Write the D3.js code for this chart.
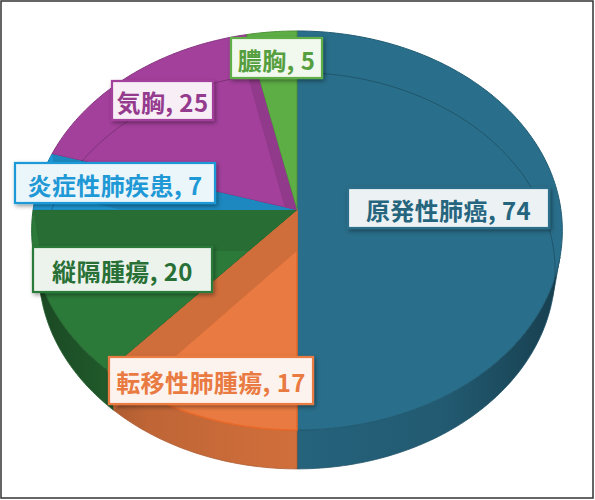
<!DOCTYPE html>
<html>
<head>
<meta charset="utf-8">
<script src="https://cdn.jsdelivr.net/npm/d3@7"></script>
<style>
  html, body { margin: 0; padding: 0; background: #fff; }
  svg { display: block; }
  .lbl { font-family: "Noto Sans CJK JP", "Noto Sans", sans-serif; font-weight: bold; font-size: 24px; }
</style>
</head>
<body>
<svg id="chart" width="595" height="500"></svg>
<script>
// ---- data ----
const categories = ["原発性肺癌", "転移性肺腫瘍", "縦隔腫瘍", "炎症性肺疾患", "気胸", "膿胸"];
const values = [74, 17, 20, 7, 25, 5];

// ---- styles / layout (not data) ----
const palette = ["#296E8A", "#E97B42", "#2C7A3A", "#1F99D6", "#A3409B", "#5EAE46"];
const labelBoxes = [
  [348, 188, 201, 40],
  [109, 357, 204, 47],
  [33, 247, 179, 45],
  [15, 163, 200, 40],
  [112, 81, 101, 39],
  [231, 38, 91, 40]
];

const W = 595, H = 500;
const cx = 297, cy = 210;          // screen position of pie centre (top face)
const f = 1705, L = 6.46;          // perspective camera
const sinP = 0.748, cosP = 0.664;  // camera elevation
const depthH = 0.24;               // pie thickness (radius = 1)

function proj(theta, r, z) {
  const x = r * Math.sin(theta), d = -r * Math.cos(theta);
  const dep = L - d * cosP - z * sinP;
  return [cx + f * x / dep, cy + f * (d * sinP - z * cosP) / dep];
}
function arcPts(a0, a1, z) {
  const n = Math.max(2, Math.ceil(Math.abs(a1 - a0) * 60));
  const pts = [];
  for (let i = 0; i <= n; i++) pts.push(proj(a0 + (a1 - a0) * i / n, 1, z));
  return pts;
}
const line = d3.line();

const svg = d3.select("#chart");
const defs = svg.append("defs");

// drop shadow for labels
const flt = defs.append("filter").attr("id", "shadow").attr("x", "-20%").attr("y", "-30%").attr("width", "140%").attr("height", "170%");
flt.append("feDropShadow").attr("dx", 1.5).attr("dy", 2).attr("stdDeviation", 2)
  .attr("flood-color", "#000").attr("flood-opacity", 0.4);

svg.append("rect").attr("width", W).attr("height", H).attr("fill", "#fff");

const pie = d3.pie().sort(null).value(d => d)(values);
const visA = Math.acos(-1 / (L * cosP));     // side wall visible from visA to 2π - visA
const visB = 2 * Math.PI - visA;

const color = d3.scaleOrdinal().domain(categories).range(palette);

// gradients for side walls
pie.forEach((a, i) => {
  const c = d3.color(color(categories[i]));
  const g = defs.append("linearGradient").attr("id", "side" + i)
    .attr("gradientUnits", "userSpaceOnUse")
    .attr("x1", cx - 266).attr("x2", cx + 266).attr("y1", 0).attr("y2", 0);
  [[0, 1.5], [0.22, 0.55], [0.5, 0.3], [0.78, 0.55], [1, 1.6]].forEach(([o, k]) =>
    g.append("stop").attr("offset", o).attr("stop-color", c.darker(k)));
});

function topPath(a) {
  return line([proj(0, 0, 0), ...arcPts(a.startAngle, a.endAngle, 0)]) + "Z";
}
function sidePath(a) {
  const s = Math.max(a.startAngle, visA), e = Math.min(a.endAngle, visB);
  if (e <= s) return null;
  return line([...arcPts(s, e, 0), ...arcPts(e, s, -depthH)]) + "Z";
}

// clip paths per slice
pie.forEach((a, i) => {
  const cp = defs.append("clipPath").attr("id", "clip" + i);
  cp.append("path").attr("d", topPath(a));
  const sp = sidePath(a);
  if (sp) cp.append("path").attr("d", sp);
});

const g = svg.append("g");

// 1. side walls
pie.forEach((a, i) => {
  const sp = sidePath(a);
  if (!sp) return;
  g.append("path").attr("d", sp).attr("fill", `url(#side${i})`)
    .attr("stroke", d3.color(color(categories[i])).darker(0.8)).attr("stroke-width", 0.8);
});

// 2. top faces
pie.forEach((a, i) => {
  const c = color(categories[i]);
  g.append("path").attr("d", topPath(a)).attr("fill", c)
    .attr("stroke", i === 1 ? "#E8692A" : d3.color(c).darker(0.5))
    .attr("stroke-width", i === 1 ? 1.6 : 1);
});

// 3. bottom outline seen through the top (bevel line)
g.append("path").attr("d", line(arcPts(visB - 2 * Math.PI, visA, -depthH)))
  .attr("fill", "none").attr("stroke", "rgba(0,0,0,0.22)").attr("stroke-width", 1);

// 4. radial walls
const walls = [];
pie.forEach((a, i) => {
  const e = a.endAngle, s = a.startAngle;
  if (e > Math.PI + 1e-6 && e < 2 * Math.PI - 1e-6) walls.push({ i, ang: e });
  if (s > 1e-6 && s < Math.PI - 1e-6) walls.push({ i, ang: s });
});
walls.forEach(w => {
  const c = d3.color(color(categories[w.i]));
  const pts = [proj(w.ang, 0, 0), proj(w.ang, 1, 0), proj(w.ang, 1, -depthH), proj(w.ang, 0, -depthH)];
  g.append("path").attr("d", line(pts) + "Z").attr("clip-path", `url(#clip${w.i})`)
    .attr("fill", c.darker(0.32));
});

// 5. labels
pie.forEach((a, i) => {
  const c = d3.color(color(categories[i]));
  const [bx, by, bw, bh] = labelBoxes[i];
  const lg = svg.append("g");
  lg.append("rect").attr("x", bx).attr("y", by).attr("width", bw).attr("height", bh)
    .attr("fill", d3.interpolateRgb("#ffffff", c.formatHex())(0.09))
    .attr("stroke", c).attr("stroke-width", 2.2).attr("filter", "url(#shadow)");
  lg.append("text").attr("class", "lbl")
    .attr("x", bx + bw / 2).attr("y", by + bh / 2 + 1)
    .attr("text-anchor", "middle").attr("dominant-baseline", "central")
    .attr("letter-spacing", "0.4px")
    .attr("fill", c.darker(i === 1 || i === 3 ? 0 : 0.25))
    .text(`${categories[i]}, ${values[i]}`);
});

// frame
svg.append("rect").attr("x", 1).attr("y", 1).attr("width", W - 3).attr("height", H - 3)
  .attr("fill", "none").attr("stroke", "#333").attr("stroke-width", 1.5);
</script>
</body>
</html>
